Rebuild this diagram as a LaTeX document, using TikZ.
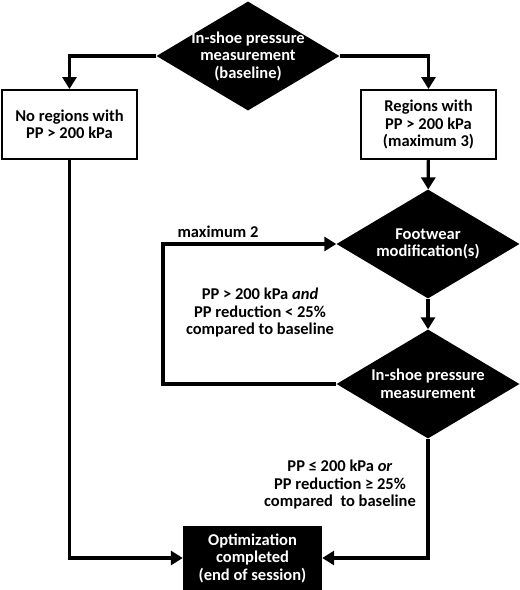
\documentclass[tikz,border=0pt]{standalone}
\usepackage{fontspec}
\setmainfont{Carlito}
\usetikzlibrary{shapes.geometric,arrows.meta}

\tikzset{
  every node/.style={font=\bfseries\fontsize{16.5}{17.5}\selectfont, align=center},
  decision/.style={diamond, fill=black, text=white, aspect=1.67, inner sep=-6pt,
                   minimum width=183pt, minimum height=109pt},
  outcome/.style={draw, line width=2pt, minimum width=135pt, minimum height=69pt},
  finish/.style={fill=black, text=white, minimum width=139pt, minimum height=64pt},
  flow/.style={line width=3.2pt, -{Triangle[length=12pt,width=14pt]}}
}

\begin{document}
\begin{tikzpicture}[x=1pt,y=-1pt]
        \useasboundingbox (0,0) rectangle (520,590);

        \node[decision] (base) at (248,56) {In-shoe pressure\\measurement\\(baseline)};
        \node[outcome] (low) at (69.5,124.5) {No regions with\\PP > 200 kPa};
        \node[outcome] (high) at (428.5,124.5) {Regions with\\PP > 200 kPa\\(maximum 3)};
        \node[decision] (modif) at (428,244) {Footwear\\modification(s)};
        \node[decision] (meas) at (428,384) {In-shoe pressure\\measurement};
        \node[finish] (done) at (252.5,558) {Optimization\\completed\\(end of session)};

        \node (max) at (218,232) {maximum 2};
        \node (again) at (260,313) {PP > 200 kPa \textit{and}\\PP reduction < 25\%\\compared to baseline};
        \node (ok) at (340,485) {PP ≤ 200 kPa \textit{or}\\PP reduction ≥ 25\%\\compared\ \ to baseline};

        \coordinate (loop) at (163,384);

        \draw[flow] (base.west) -| (low.north);
        \draw[flow] (base.east) -| (high.north);
        \path[flow] (high) edge (modif)
                    (modif) edge (meas);
        \draw[flow] (meas.west) -- (loop) |- (modif.west);
        \draw[flow] (low.south) |- (done.west);
        \draw[flow] (meas.south) |- (done.east);
\end{tikzpicture}
\end{document}
